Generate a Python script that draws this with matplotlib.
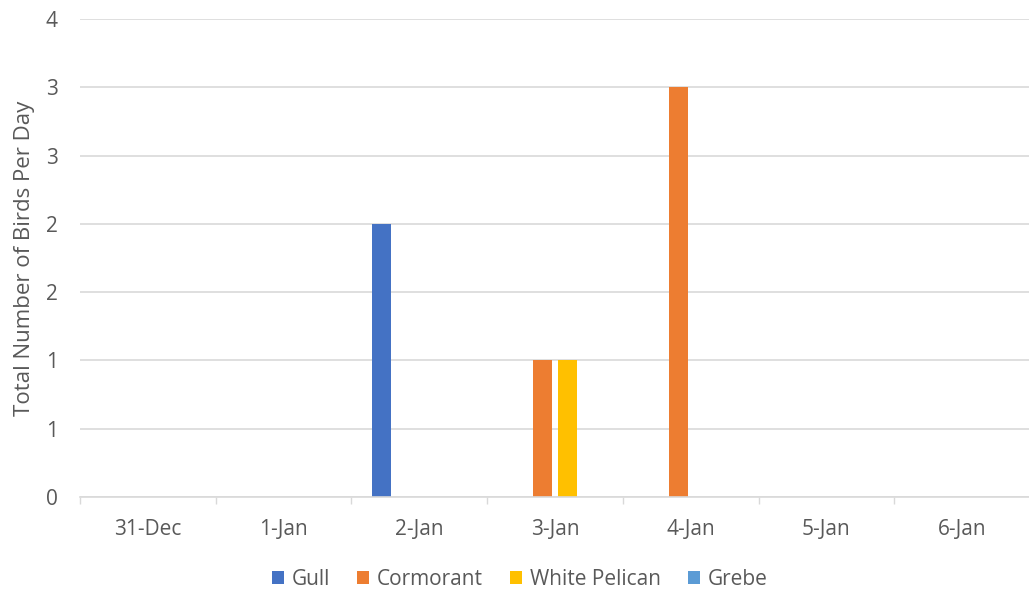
import numpy as np
import matplotlib.pyplot as plt

plt.rcParams['font.family'] = ['Open Sans', 'DejaVu Sans']

# data
days = ['31-Dec', '1-Jan', '2-Jan', '3-Jan', '4-Jan', '5-Jan', '6-Jan']
gull = [0, 0, 2, 0, 0, 0, 0]
cormorant = [0, 0, 0, 1, 3, 0, 0]
white_pelican = [0, 0, 0, 1, 0, 0, 0]
grebe = [0, 0, 0, 0, 0, 0, 0]

series = [('Gull', gull, '#4472C4'),
          ('Cormorant', cormorant, '#ED7D31'),
          ('White Pelican', white_pelican, '#FFC000'),
          ('Grebe', grebe, '#5B9BD5')]

txt = '#595959'
grid = '#d9d9d9'

fig = plt.figure(figsize=(10.29, 5.93), dpi=100)
ax = fig.add_axes([80 / 1029, 96 / 593, 950 / 1029, (497 - 19) / 593])

x = np.arange(len(days))
pitch = 0.184
width = 0.142
for i, (name, vals, col) in enumerate(series):
    ax.bar(x + (i - 1.5) * pitch, vals, width, color=col, label=name, zorder=3)

ax.set_xlim(-0.5, len(days) - 0.5)
ax.set_ylim(0, 3.5)
yt = np.arange(0, 3.51, 0.5)
ax.set_yticks(yt)
ax.set_yticklabels([str(int(np.floor(v + 0.5))) for v in yt])
ax.set_xticks(x)
ax.set_xticklabels(days)
ax.set_xticks(np.arange(-0.5, len(days)), minor=True)

ax.tick_params(axis='y', length=0, pad=16, labelsize=15, labelcolor=txt)
ax.tick_params(axis='x', which='major', length=0, pad=16, labelsize=15, labelcolor=txt)
ax.tick_params(axis='x', which='minor', length=5, color=grid, width=1)

ax.grid(axis='y', color=grid, linewidth=1.2, zorder=0)
for s in ['top', 'right', 'left']:
    ax.spines[s].set_visible(False)
ax.spines['bottom'].set_color(grid)
ax.spines['bottom'].set_linewidth(1.2)
ax.spines['bottom'].set_zorder(4)

ax.set_ylabel('Total Number of Birds Per Day', fontsize=16, color=txt, labelpad=8)

ax.legend(loc='center', bbox_to_anchor=(440 / 950, -0.172), ncol=4, frameon=False,
          fontsize=15, labelcolor=txt, handlelength=0.55, handleheight=0.55,
          handletextpad=0.4, columnspacing=1.3)

plt.savefig('out.png', dpi=100)
